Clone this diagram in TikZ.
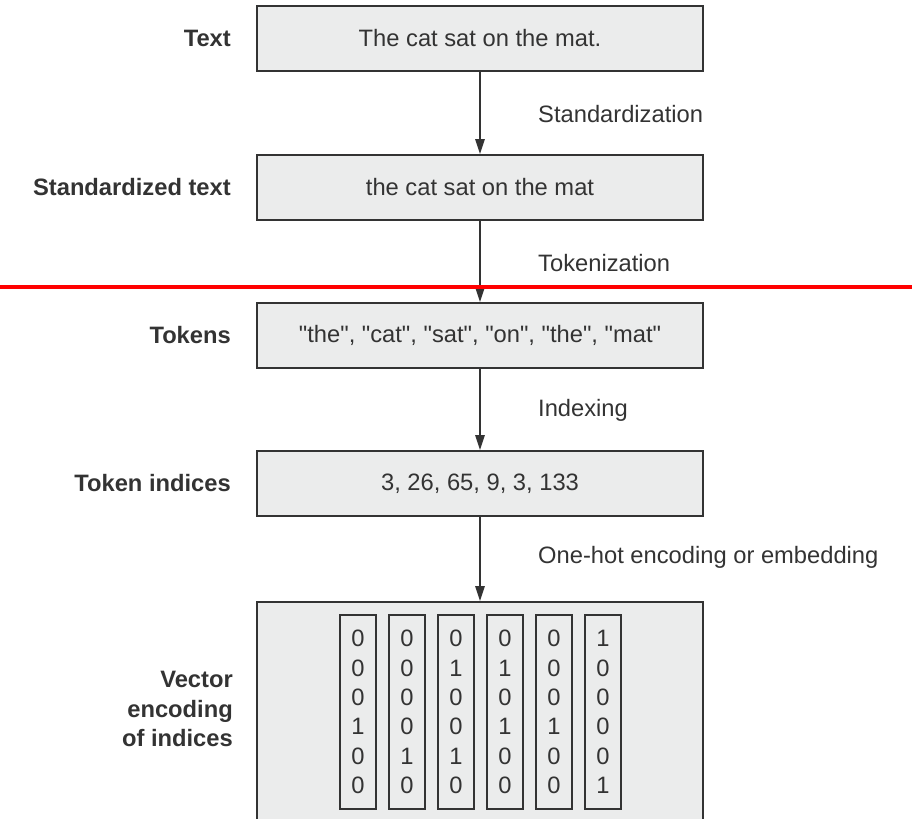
\documentclass[tikz,border=0pt]{standalone}
\usepackage{fontspec}
\setmainfont{Liberation Sans}
\usetikzlibrary{arrows.meta}
\definecolor{BoxClr}{HTML}{EBECEC}
\definecolor{InkClr}{HTML}{333333}

\begin{document}
\begin{tikzpicture}[x=0.02cm,y=-0.02cm,
  every node/.style={text=InkClr,font=\fontsize{13.5}{16.7}\selectfont},
  stagebox/.style={draw=InkClr,line width=1.1pt,fill=BoxClr,minimum width=8.92cm,minimum height=1.3cm},
  vecbox/.style={draw=InkClr,line width=1.1pt,minimum width=0.72cm,minimum height=3.88cm,align=center,inner sep=0pt},
  stagelbl/.style={anchor=east,font=\fontsize{13.5}{16.7}\selectfont\bfseries,align=right},
  steplbl/.style={anchor=west},
  flow/.style={draw=InkClr,line width=0.85pt,-{Triangle[length=0.3cm,width=0.19cm]}}]
\path[use as bounding box,clip] (0,0) rectangle (912,818);

% stages
\def\q{\textquotedbl}
\node[stagebox] (T1) at (480,38.5) {The cat sat on the mat.};
\node[stagebox] (T2) at (480,187.5) {the cat sat on the mat};
\node[stagebox] (T3) at (480,335.5) {\q the\q, \q cat\q, \q sat\q, \q on\q, \q the\q, \q mat\q};
\node[stagebox] (T4) at (480,483.5) {3, 26, 65, 9, 3, 133};
\node[stagebox,minimum height=4.76cm] (T5) at (480,721) {};

% one-hot vectors
\foreach \i/\v in {0/{0\\0\\0\\1\\0\\0},1/{0\\0\\0\\0\\1\\0},2/{0\\1\\0\\0\\1\\0},
                   3/{0\\1\\0\\1\\0\\0},4/{0\\0\\0\\1\\0\\0},5/{1\\0\\0\\0\\0\\1}}
  \node[vecbox] (V\i) at ({358+49*\i},712) {\v};

% labels on the left
\node[stagelbl] (L1) at (237,38.5) {Text};
\node[stagelbl] (L2) at (237,187.5) {Standardized text};
\node[stagelbl] (L3) at (237,335.5) {Tokens};
\node[stagelbl] (L4) at (237,483.5) {Token indices};
\node[stagelbl] (L5) at (239,709) {Vector\\encoding\\of indices};

% steps
\draw[flow] (T1) -- (T2);
\draw[flow] (T2) -- (T3);
\draw[flow] (T3) -- (T4);
\draw[flow] (T4) -- (T5);
\node[steplbl] (S1) at (532,114) {Standardization};
\node[steplbl] (S2) at (532,263) {Tokenization};
\node[steplbl] (S3) at (532,410) {Indexing};
\node[steplbl] (S4) at (532,557) {One-hot encoding or embedding};

\draw[red,line width=2pt] (0,287) -- (912,287);
\end{tikzpicture}
\end{document}
